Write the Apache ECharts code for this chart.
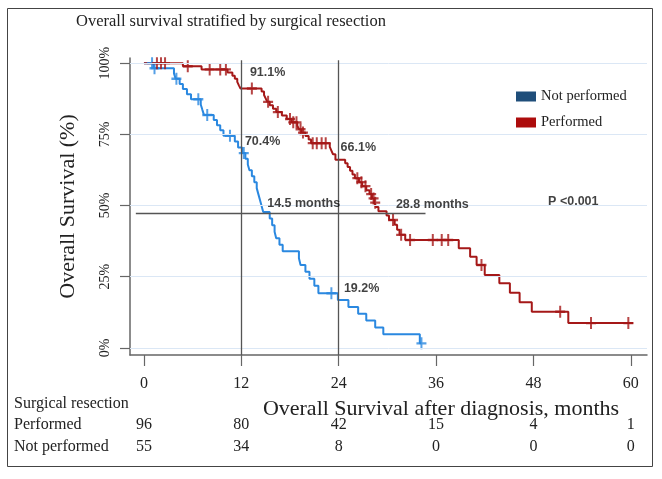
<!DOCTYPE html>
<html>
<head>
<meta charset="utf-8">
<script src="https://cdn.jsdelivr.net/npm/echarts@6/dist/echarts.min.js"></script>
<style>
html, body { margin: 0; padding: 0; background: #fff; }
#chart { width: 662px; height: 479px; }
</style>
</head>
<body>
<div id="chart"></div>
<script>
// Kaplan-Meier steps: [months, survival %] (value holds until the next step)
var notPerformedSteps = [
  [0, 100], [1.2, 98.2], [3.7, 96.4], [3.9, 94.5], [4.4, 92.7], [4.8, 90.9], [5.3, 89.1], [5.8, 87.3],
  [7.0, 85.5], [7.2, 83.6], [7.4, 81.8], [8.6, 80.0], [9.0, 78.2], [9.4, 76.4], [9.8, 74.5],
  [11.2, 72.5], [11.6, 70.4], [12.1, 68.4], [12.5, 66.4], [12.8, 64.4], [13.0, 62.4], [13.3, 60.3],
  [13.6, 58.2], [13.9, 56.1], [14.1, 54.0], [14.3, 51.9], [14.5, 49.8], [14.7, 47.7],
  [15.5, 45.4], [15.8, 43.1], [16.1, 40.8], [16.3, 38.5], [16.7, 36.2], [17.1, 33.9],
  [19.1, 31.5], [19.3, 29.1], [19.9, 26.7], [20.4, 24.3], [21.0, 21.8], [21.5, 19.2],
  [23.9, 16.8], [25.2, 14.4], [26.4, 12.0], [27.4, 9.6], [28.5, 7.2], [29.5, 4.8],
  [34.0, 1.6], [34.2, 1.6]
];
var performedSteps = [
  [0, 100], [4.8, 98.9], [7.1, 97.8], [10.3, 96.7], [10.9, 95.6], [11.2, 94.5], [11.5, 93.4],
  [11.7, 92.2], [11.9, 91.1], [14.5, 90.0], [14.8, 88.8], [15.0, 87.6], [15.2, 86.4], [15.5, 85.2],
  [15.9, 84.0], [16.3, 82.8], [17.0, 81.6], [17.6, 80.4], [18.2, 79.2], [18.9, 78.0], [19.1, 76.8],
  [19.4, 75.6], [19.9, 74.4], [20.3, 73.2], [20.6, 71.9], [22.9, 70.6], [23.1, 69.3], [23.3, 68.0],
  [23.6, 66.1], [24.8, 64.8], [25.1, 63.5], [25.4, 62.2], [25.7, 60.9], [26.0, 59.6], [26.5, 58.2],
  [26.9, 56.8], [27.4, 55.4], [27.8, 54.0], [28.1, 52.5], [28.4, 51.0], [28.6, 49.5], [28.9, 48.0],
  [29.9, 46.5], [30.2, 44.9], [30.9, 43.2], [31.2, 41.5], [31.5, 39.7], [32.2, 37.9],
  [38.8, 35.0], [40.2, 32.0], [41.0, 29.1], [42.0, 25.6], [43.8, 22.7], [45.1, 19.4],
  [46.3, 16.0], [47.8, 12.7], [52.3, 8.7], [60.3, 8.7]
];
// censoring times (months)
var notPerformedCensored = [1.0, 1.3, 4.0, 6.7, 7.8, 10.6, 12.3, 23.1, 34.2];
var performedCensored = [1.6, 2.1, 2.6, 5.4, 8.1, 9.4, 10.1, 13.3, 15.3, 16.5, 18.0, 18.4, 18.8,
  19.3, 19.6, 20.8, 21.3, 21.9, 22.4, 26.3, 26.8, 27.3, 28.0, 28.3, 28.5, 30.7, 31.7, 32.8,
  35.6, 36.7, 37.5, 41.6, 51.3, 55.1, 59.7];

var xTicks = [0, 12, 24, 36, 48, 60];
var yTicks = [0, 25, 50, 75, 100];
var atRiskPerformed = [96, 80, 42, 15, 4, 1];
var atRiskNotPerformed = [55, 34, 8, 0, 0, 0];
var landmarkMonths = [12, 24];
var medianLevel = 47.3;
var medianLineEnd = 34.7;
// [text, month, survival] of each annotation's left edge
var notes = [
  ['91.1%', 13.06, 96.6], ['70.4%', 12.44, 72.6], ['66.1%', 24.23, 70.3],
  ['14.5 months', 15.19, 50.8], ['28.8 months', 31.05, 50.2], ['19.2%', 24.64, 20.7],
  ['P <0.001', 49.81, 51.3]
];

var serif = '"Liberation Serif", "Times New Roman", serif';
var sans = '"Liberation Sans", Arial, sans-serif';
var blue = '#2a88e0';
var red = '#a51818';
var plus = 'path://M4,0H6V10H4ZM0,4H10V6H0Z';

function survivalAt(steps, t) {
  var s = steps[0][1];
  for (var i = 0; i < steps.length; i++) {
    if (steps[i][0] <= t) s = steps[i][1];
  }
  return s;
}
function censorPoints(steps, times) {
  return times.map(function (t) { return [t, survivalAt(steps, t)]; });
}

var chart = echarts.init(document.getElementById('chart'));

var option = {
  animation: false,
  title: {
    text: 'Overall survival stratified by surgical resection',
    left: 76, top: 13, padding: 0,
    textStyle: { fontFamily: serif, fontSize: 16.5, fontWeight: 'normal', color: '#222' }
  },
  legend: {
    orient: 'vertical', left: 516, top: 89, padding: 0,
    icon: 'rect', itemWidth: 20, itemHeight: 10, itemGap: 11,
    textStyle: { fontFamily: serif, fontSize: 14.5, color: '#222' },
    data: [
      { name: 'Not performed', itemStyle: { color: '#1f4e7a' } },
      { name: 'Performed', itemStyle: { color: '#ad0c0c' } }
    ]
  },
  grid: { left: 130, right: 15, top: 58, bottom: 124 },
  xAxis: {
    type: 'value', min: -1.72, max: 62,
    axisLine: { onZero: false, lineStyle: { color: '#666', width: 1.5 } },
    axisTick: { customValues: xTicks, length: 11, lineStyle: { color: '#666', width: 1.2 } },
    axisLabel: { customValues: xTicks, margin: 21, fontFamily: serif, fontSize: 16, color: '#222' },
    splitLine: { show: false }
  },
  yAxis: {
    type: 'value', min: -2.5, max: 101.8,
    name: 'Overall Survival (%)', nameLocation: 'middle', nameGap: 51,
    nameTextStyle: { fontFamily: serif, fontSize: 22, color: '#222' },
    axisLine: { show: true, onZero: false, lineStyle: { color: '#666', width: 1.5 } },
    axisTick: { show: true, customValues: yTicks, length: 10, lineStyle: { color: '#666', width: 1.2 } },
    axisLabel: {
      customValues: yTicks, rotate: 90, margin: 18,
      fontFamily: serif, fontSize: 14, color: '#222',
      formatter: function (v) { return v + '%'; }
    },
    splitLine: { show: false }
  },
  series: [
    {
      name: 'grid', type: 'line', data: [], z: 1, silent: true,
      markLine: {
        silent: true, symbol: 'none', label: { show: false },
        lineStyle: { color: '#dbe7f5', width: 1, type: 'solid' },
        data: yTicks.map(function (v) { return { yAxis: v }; })
      }
    },
    {
      name: 'ref', type: 'line', data: [], z: 2, silent: true,
      markLine: {
        silent: true, symbol: 'none', label: { show: false },
        lineStyle: { color: '#555', width: 1.3, type: 'solid' },
        data: landmarkMonths.map(function (m) {
          return [{ coord: [m, 101] }, { coord: [m, -2.5] }];
        }).concat([[{ coord: [-1, medianLevel] }, { coord: [medianLineEnd, medianLevel] }]])
      }
    },
    {
      name: 'Not performed', type: 'line', step: 'end', data: notPerformedSteps,
      symbol: 'none', z: 3, lineStyle: { color: blue, width: 2 }, itemStyle: { color: blue }
    },
    {
      name: 'Performed', type: 'line', step: 'end', data: performedSteps,
      symbol: 'none', z: 3, lineStyle: { color: red, width: 2 }, itemStyle: { color: red }
    },
    {
      name: 'Not performed', type: 'scatter', symbol: plus, symbolSize: [10, 12], z: 4,
      data: censorPoints(notPerformedSteps, notPerformedCensored), itemStyle: { color: blue }
    },
    {
      name: 'Performed', type: 'scatter', symbol: plus, symbolSize: [10, 12], z: 4,
      data: censorPoints(performedSteps, performedCensored), itemStyle: { color: red }
    },
    {
      name: 'notes', type: 'scatter', symbolSize: 0, z: 5, silent: true,
      data: notes.map(function (n) { return [n[1], n[2], n[0]]; }),
      label: {
        show: true, position: [0, 0], align: 'left', verticalAlign: 'middle',
        fontFamily: sans, fontSize: 12.5, fontWeight: 'bold', color: '#111',
        formatter: function (p) { return p.data[2]; }
      }
    }
  ]
};
chart.setOption(option);

// frame, x-axis title and number-at-risk table
function px(t) { return chart.convertToPixel({ xAxisIndex: 0 }, t); }
function txt(s, x, y, size, align) {
  return {
    type: 'text', x: x, y: y,
    style: { text: s, font: size + 'px ' + serif, fill: '#222', align: align || 'left', verticalAlign: 'middle' }
  };
}
var graphics = [
  { type: 'rect', shape: { x: 7.5, y: 8.5, width: 645, height: 458 }, style: { fill: 'none', stroke: '#444', lineWidth: 1 } },
  txt('Overall Survival after diagnosis, months', 441, 409, 22, 'center'),
  txt('Surgical resection', 14, 404, 16),
  txt('Performed', 14, 425, 16),
  txt('Not performed', 14, 447, 16)
];
xTicks.forEach(function (t, i) {
  graphics.push(txt(String(atRiskPerformed[i]), px(t), 425, 16, 'center'));
  graphics.push(txt(String(atRiskNotPerformed[i]), px(t), 447, 16, 'center'));
});
chart.setOption({ graphic: graphics });
</script>
</body>
</html>
